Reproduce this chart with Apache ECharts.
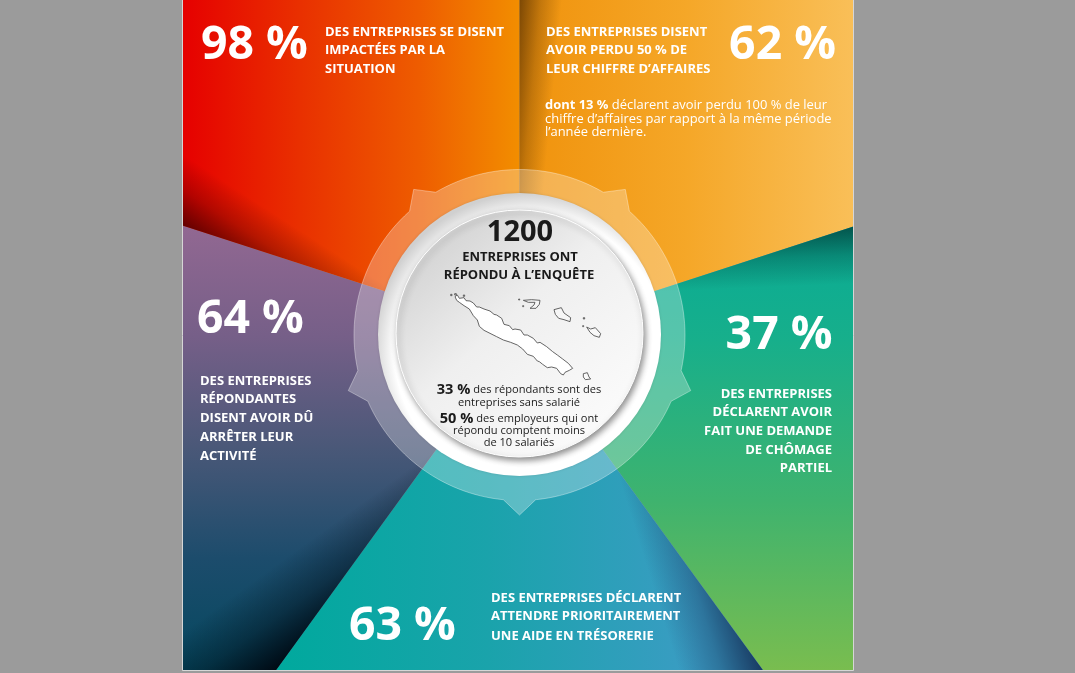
<!DOCTYPE html>
<html><head><meta charset="utf-8">
<script src="https://cdn.jsdelivr.net/npm/echarts@6/dist/echarts.min.js"></script>
<style>html,body{margin:0;padding:0;background:#9b9b9b;overflow:hidden}#c{width:1075px;height:673px}</style>
</head><body><div id="c"></div>
<script>
// Data — clockwise from the top boundary
const categories = ['Perte de 50 % du CA','Chômage partiel','Aide en trésorerie','Arrêt d\'activité','Impactées'];
const percentLabels = ['62 %','37 %','63 %','64 %','98 %'];
const sliceShares = [1,1,1,1,1];
const caption62 = ['DES ENTREPRISES DISENT','AVOIR PERDU 50 % DE','LEUR CHIFFRE D’AFFAIRES'];
const caption37 = ['DES ENTREPRISES','DÉCLARENT AVOIR','FAIT UNE DEMANDE','DE CHÔMAGE','PARTIEL'];
const caption63 = ['DES ENTREPRISES DÉCLARENT','ATTENDRE PRIORITAIREMENT','UNE AIDE EN TRÉSORERIE'];
const caption64 = ['DES ENTREPRISES','RÉPONDANTES','DISENT AVOIR DÛ','ARRÊTER LEUR','ACTIVITÉ'];
const caption98 = ['DES ENTREPRISES SE DISENT','IMPACTÉES PAR LA','SITUATION'];

const FONT = '"Open Sans"';
const CX = 519.5, CY = 335;
const PANEL = {l:182, r:853, t:0, b:670};
const BG = '#9b9b9b';
const LG = (x,y,x2,y2,stops)=>({type:'linear',x,y,x2,y2,global:true,
  colorStops:stops.map(s=>({offset:s[0],color:s[1]}))});

const baseFill = [
  LG(520,0,853,0,[[0,'#f0920c'],[.5,'#f5a728'],[1,'#f9bf58']]),
  LG(0,226,0,670,[[0,'#08ab96'],[.26,'#17af8b'],[.62,'#3fb36e'],[1,'#79bd4f']]),
  LG(276,0,700,0,[[0,'#00a99d'],[.5,'#1aa3ab'],[1,'#3b9cc4']]),
  LG(0,225,0,670,[[0,'#926892'],[.25,'#765f88'],[.5,'#4a5878'],[.75,'#1c4c6c'],[1,'#05485f']]),
  LG(182,0,520,0,[[0,'#e60000'],[.35,'#e93000'],[.7,'#ee5c00'],[1,'#f28e00']])
];
// shadow along each slice's leading edge: F far point, N fade point, w width, a alpha
function shade(F,N,w,a,rgb){
  const dx=F[0]-N[0],dy=F[1]-N[1],L=Math.hypot(dx,dy);
  const px=-dy/L,py=dx/L;
  const Z=[F[0]+px*w,F[1]+py*w];
  const zx=Z[0]-N[0],zy=Z[1]-N[1],zl=Math.hypot(zx,zy);
  const ux=zx/zl,uy=zy/zl;
  const t=(F[0]-N[0])*ux+(F[1]-N[1])*uy;
  const P0=[N[0]+ux*t,N[1]+uy*t];
  return LG(P0[0],P0[1],F[0],F[1],[[0,`rgba(${rgb},0)`],[.5,`rgba(${rgb},${a*.4})`],[1,`rgba(${rgb},${a})`]]);
}
const shadeFill = [
  shade([520,0],[520,430],42,.6,'50,25,0'),
  shade([853,226],[650,292],60,.62,'0,30,30'),
  shade([763,670],[615,465],85,.88,'20,45,85'),
  shade([276,670],[435,450],90,1,'0,10,20'),
  shade([182,225],[400,295],62,.72,'50,0,0')
];

const els = [];
const Z = 20;
function rect(x,y,w,h,style,z){els.push({type:'rect',silent:true,z:z||Z,shape:{x,y,width:w,height:h},style});}
rect(0,0,PANEL.l,673,{fill:BG});
rect(PANEL.r,0,1075-PANEL.r,673,{fill:BG});
rect(0,PANEL.b,1075,3,{fill:BG});
els.push({type:'polyline',silent:true,z:Z,shape:{points:[[PANEL.l+.5,0],[PANEL.l+.5,PANEL.b+.5],[PANEL.r+.5,PANEL.b+.5],[PANEL.r+.5,0]]},style:{fill:null,stroke:'#d6d6d6',lineWidth:1}});

function pol(r,deg){const t=deg*Math.PI/180;return [CX+r*Math.sin(t),CY-r*Math.cos(t)];}
const ringPts=[]; const R=165.5,TIP=180,HALF=5.6;
for(let i=0;i<5;i++){
  const mid=36+72*i;
  for(let a=mid-36;a<mid-HALF;a+=2){ringPts.push(pol(R,a));}
  ringPts.push(pol(R,mid-HALF),pol(TIP,mid),pol(R,mid+HALF));
  for(let a=mid+HALF+2;a<mid+36;a+=2){ringPts.push(pol(R,a));}
}
els.push({type:'polygon',silent:true,z:Z,shape:{points:ringPts},style:{fill:'rgba(255,255,255,.28)',stroke:'rgba(255,255,255,.35)',lineWidth:1}});
// white collar, greyed at its upper-left rim
els.push({type:'circle',silent:true,z:Z,shape:{cx:CX,cy:CY-.5,r:141.5},style:{
  fill:new echarts.graphic.RadialGradient(.54,.56,.56,[{offset:0,color:'#ffffff'},{offset:.86,color:'#ffffff'},{offset:1,color:'#d0d0d0'}]),
  shadowBlur:3,shadowColor:'rgba(0,0,0,.12)'}});
// inner disc
els.push({type:'circle',silent:true,z:Z,shape:{cx:CX,cy:CY-1.5,r:123.5},style:{
  fill:new echarts.graphic.LinearGradient(.12,.08,.85,.9,[{offset:0,color:'#d0d0d0'},{offset:.45,color:'#efefef'},{offset:1,color:'#fbfbfb'}]),
  stroke:'#ffffff',lineWidth:1,
  shadowBlur:6,shadowOffsetX:2,shadowOffsetY:3,shadowColor:'rgba(0,0,0,.45)'}});

// New Caledonia outline (3x crop space anchored at 440,285)
const islandOrigin=[440,285];
const islands=[
 [[45,35],[52,30],[58,40],[72,38],[78,47],[90,48],[100,54],[110,66],[118,66],[132,72],[150,78],[162,88],[170,90],[185,100],[192,118],[208,122],[218,134],[225,132],[242,135],[252,150],[262,150],[280,160],[292,174],[300,172],[320,185],[338,200],[352,210],[368,222],[385,235],[398,250],[388,256],[375,262],[370,270],[362,266],[350,250],[335,246],[322,248],[308,238],[298,230],[292,228],[280,214],[262,208],[248,192],[232,180],[222,176],[212,172],[190,165],[170,155],[150,145],[132,136],[118,124],[112,105],[100,92],[88,72],[72,62],[58,52],[50,46]],
 [[250,46],[275,44],[300,46],[298,58],[288,70],[270,70],[282,60],[285,52],[265,52]],
 [[342,74],[364,68],[372,84],[392,98],[390,110],[372,104],[356,100],[346,88]],
 [[440,126],[452,132],[466,128],[482,146],[478,157],[462,152],[450,142]],
 [[430,266],[442,263],[447,276],[452,282],[436,284],[430,276]],
 [[236,42],[239,42],[239,45],[236,45]],[[248,62],[251,62],[251,65],[248,65]],[[430,98],[434,98],[434,102],[430,102]],[[428,122],[431,122],[431,125],[428,125]],
 [[32,28],[36,28],[36,32],[32,32]],[[44,26],[49,26],[49,30],[44,30]],[[70,30],[74,30],[74,34],[70,34]]
];
islands.forEach((p,i)=>els.push({type:'polygon',silent:true,z:Z,shape:{points:p.map(q=>[islandOrigin[0]+q[0]/3,islandOrigin[1]+q[1]/3])},
  style:{fill:i===0?'#ffffff':'rgba(255,255,255,.35)',stroke:'#555555',lineWidth:.9}}));

function txt(x,y,text,size,opt){opt=opt||{};
  els.push({type:'text',silent:true,z:Z+1,x,y,style:Object.assign({text,fill:opt.fill||'#fff',
    font:`${opt.weight||'bold'} ${size}px ${FONT}`,align:opt.align||'left',verticalAlign:'middle'},opt.extra||{})});
}
function lines(x,ys,arr,size,opt){arr.forEach((t,i)=>txt(x,ys[i],t,size,opt));}

const BIG=46.4, CAP=13;
txt(836,46,percentLabels[0],BIG,{align:'right'});
txt(832.5,336,percentLabels[1],BIG,{align:'right'});
txt(349,627,percentLabels[2],BIG);
txt(197,320,percentLabels[3],BIG);
txt(201,46,percentLabels[4],BIG);

lines(546,[32,50.5,69],caption62,CAP);
lines(832,[394,412.5,431,450,468.5],caption37,CAP,{align:'right'});
lines(491,[598,616.5,636],caption63,CAP);
lines(200,[381,399.5,418.5,437.5,456.5],caption64,CAP);
lines(325,[32,50.5,69],caption98,CAP);

const NOTE=12.95;
const richNote={b:{font:`bold ${NOTE}px ${FONT}`,fill:'#fff'},r:{font:`400 ${NOTE}px ${FONT}`,fill:'#fff'}};
txt(545,105,'{b|dont 13 %}{r| déclarent avoir perdu 100 % de leur}',NOTE,{extra:{rich:richNote}});
txt(545,119,'chiffre d’affaires par rapport à la même période',NOTE,{weight:'400'});
txt(545,132.5,'l’année dernière.',NOTE,{weight:'400'});

const DARK='#1a1a1a';
txt(520,232.5,'1200',29,{align:'center',fill:DARK});
txt(520,257,'ENTREPRISES ONT',CAP,{align:'center',fill:DARK});
txt(519,275.5,'RÉPONDU À L’ENQUÊTE',CAP,{align:'center',fill:DARK});
const richC={b:{font:`bold 14.6px ${FONT}`,fill:DARK},r:{font:`400 11.1px ${FONT}`,fill:DARK}};
txt(519,390,'{b|33 %}{r| des répondants sont des}',11.1,{align:'center',extra:{rich:richC}});
txt(519,403,'entreprises sans salarié',11.1,{align:'center',fill:DARK,weight:'400'});
txt(519,419,'{b|50 %}{r| des employeurs qui ont}',11.1,{align:'center',extra:{rich:richC}});
txt(519,431,'répondu comptent moins',11.1,{align:'center',fill:DARK,weight:'400'});
txt(519,443,'de 10 salariés',11.1,{align:'center',fill:DARK,weight:'400'});

const chart=echarts.init(document.getElementById('c'),null,{renderer:'canvas'});
const mk=fills=>categories.map((c,i)=>({name:c,value:sliceShares[i],itemStyle:{color:fills[i]}}));
const pie=(fills,z)=>({type:'pie',center:[CX,CY],radius:[0,900],startAngle:90,clockwise:true,z,silent:true,animation:false,
  minAngle:0,label:{show:false},labelLine:{show:false},emphasis:{disabled:true},data:mk(fills)});
chart.setOption({backgroundColor:BG,animation:false,tooltip:{show:false},legend:{show:false},
  series:[pie(baseFill,2),pie(shadeFill,3)],graphic:{elements:els}});
</script></body></html>
